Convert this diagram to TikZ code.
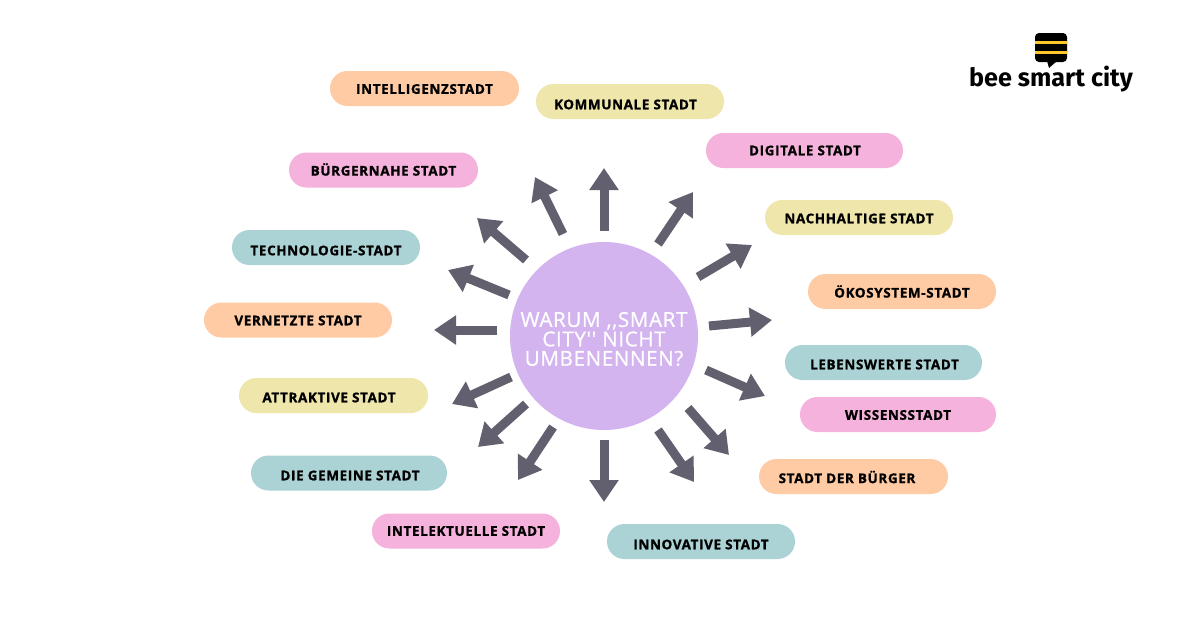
\documentclass[tikz,border=0pt]{standalone}
\usepackage{fontspec}
\setmainfont{Open Sans}
\newfontfamily\pilltext[LetterSpace=5,Ligatures=NoCommon,BoldFeatures={FakeBold=1.2}]{Open Sans}
\newfontfamily\hubtext[LetterSpace=3,FakeBold=0.7]{Open Sans}
\newfontfamily\logotext{Fira Sans}
\usetikzlibrary{arrows.meta}
\definecolor{cpeach}{HTML}{FFCBA4}
\definecolor{csand}{HTML}{EFE6AC}
\definecolor{cpink}{HTML}{F4B2DC}
\definecolor{cteal}{HTML}{ABD3D5}
\definecolor{chub}{HTML}{D4B4EF}
\definecolor{carrow}{HTML}{625F6E}
\definecolor{cbee}{HTML}{FFC629}
\tikzset{
  x=1pt,y=-1pt,
  pill/.style={rounded corners=17.4pt,minimum height=35pt,inner sep=0pt,anchor=center},
  pilllabel/.style={font=\pilltext\fontsize{13.4}{13.4}\bfseries\selectfont,text=black,inner sep=0pt},
  spoke/.style={draw=carrow,line width=9pt,-{Triangle[length=22pt,width=28pt,fill=carrow]}},
}
\newcommand{\pillnode}[8]{%
  \node[pill,fill=#2,minimum width=#4pt] (#1) at (#3,#5) {};
  \node[pilllabel] (#1t) at (#6,#7) {#8};}
\begin{document}
\begin{tikzpicture}
\useasboundingbox (0,0) rectangle (1200,630);
\fill[white] (0,0) rectangle (1200,630);
\pillnode{a}{cpeach}{424.5}{189}{88.5}{424.5}{89}{INTELLIGENZSTADT}
\pillnode{b}{csand}{630}{188}{101.5}{625.5}{104.5}{KOMMUNALE STADT}
\pillnode{c}{cpink}{804.5}{197}{150.5}{805}{150.5}{DIGITALE STADT}
\pillnode{d}{csand}{859}{188}{217.5}{859}{218.5}{NACHHALTIGE STADT}
\pillnode{e}{cpeach}{902}{188}{291.5}{902}{291.5}{ÖKOSYSTEM-STADT}
\pillnode{f}{cteal}{883.5}{197}{362.5}{884.5}{364.5}{LEBENSWERTE STADT}
\pillnode{g}{cpink}{898}{196}{414.5}{898}{415}{WISSENSSTADT}
\pillnode{h}{cpeach}{853.5}{189}{476.5}{847}{477}{STADT DER BÜRGER}
\pillnode{i}{cteal}{701}{188}{541.5}{701}{544.5}{INNOVATIVE STADT}
\pillnode{j}{cpink}{466}{188}{531}{466}{531}{INTELEKTUELLE STADT}
\pillnode{k}{cteal}{349}{196}{473}{350}{475.5}{DIE GEMEINE STADT}
\pillnode{l}{csand}{333.5}{189}{395.5}{329}{397.5}{ATTRAKTIVE STADT}
\pillnode{m}{cpeach}{298}{188}{320}{298}{320.5}{VERNETZTE STADT}
\pillnode{n}{cteal}{326}{188}{247.5}{326}{250.5}{TECHNOLOGIE-STADT}
\pillnode{o}{cpink}{383.5}{189}{170}{383.5}{169.5}{BÜRGERNAHE STADT}
\node[circle,fill=chub,minimum size=188pt,inner sep=0pt] (hub) at (604,336) {};
\node[font=\hubtext\fontsize{20.6}{20}\selectfont,text=white,align=center,inner sep=0pt] (hubt) at (604,339)
  {WARUM ,,SMART\\[-0.6pt]CITY'' NICHT\\[-0.6pt]UMBENENNEN?};
\foreach \n/\bx/\by/\tx/\ty in {
 1/604/231/604/168, 2/563/234/535/177, 3/658/244/693/192, 4/698/277/752/245,
 5/709/326/772/320, 6/706/370/765/396, 7/688/408/729/455, 8/658/430/694/482,
 9/604/440/604/502, 10/553/427/518/480, 11/526/404/478/447, 12/511/377/452/404,
 13/497/330/434/330, 14/509/295/448/270, 15/526/260/477/218}{
  \coordinate (s\n) at (\bx,\by);
  \coordinate (e\n) at (\tx,\ty);
  \draw[spoke] (s\n) -- (e\n);
}
% logo
\fill[black,rounded corners=4pt] (1035,33) rectangle (1067,62);
\fill[black] (1047,61) -- (1049,68) -- (1057,61) -- cycle;
\fill[cbee] (1035,41) rectangle (1067,44);
\fill[cbee] (1035,51) rectangle (1067,54);
\node[font=\logotext\fontsize{25.2}{25}\bfseries\selectfont,inner sep=0pt,anchor=base] (logo) at (1051,86) {bee smart city};
\end{tikzpicture}
\end{document}
